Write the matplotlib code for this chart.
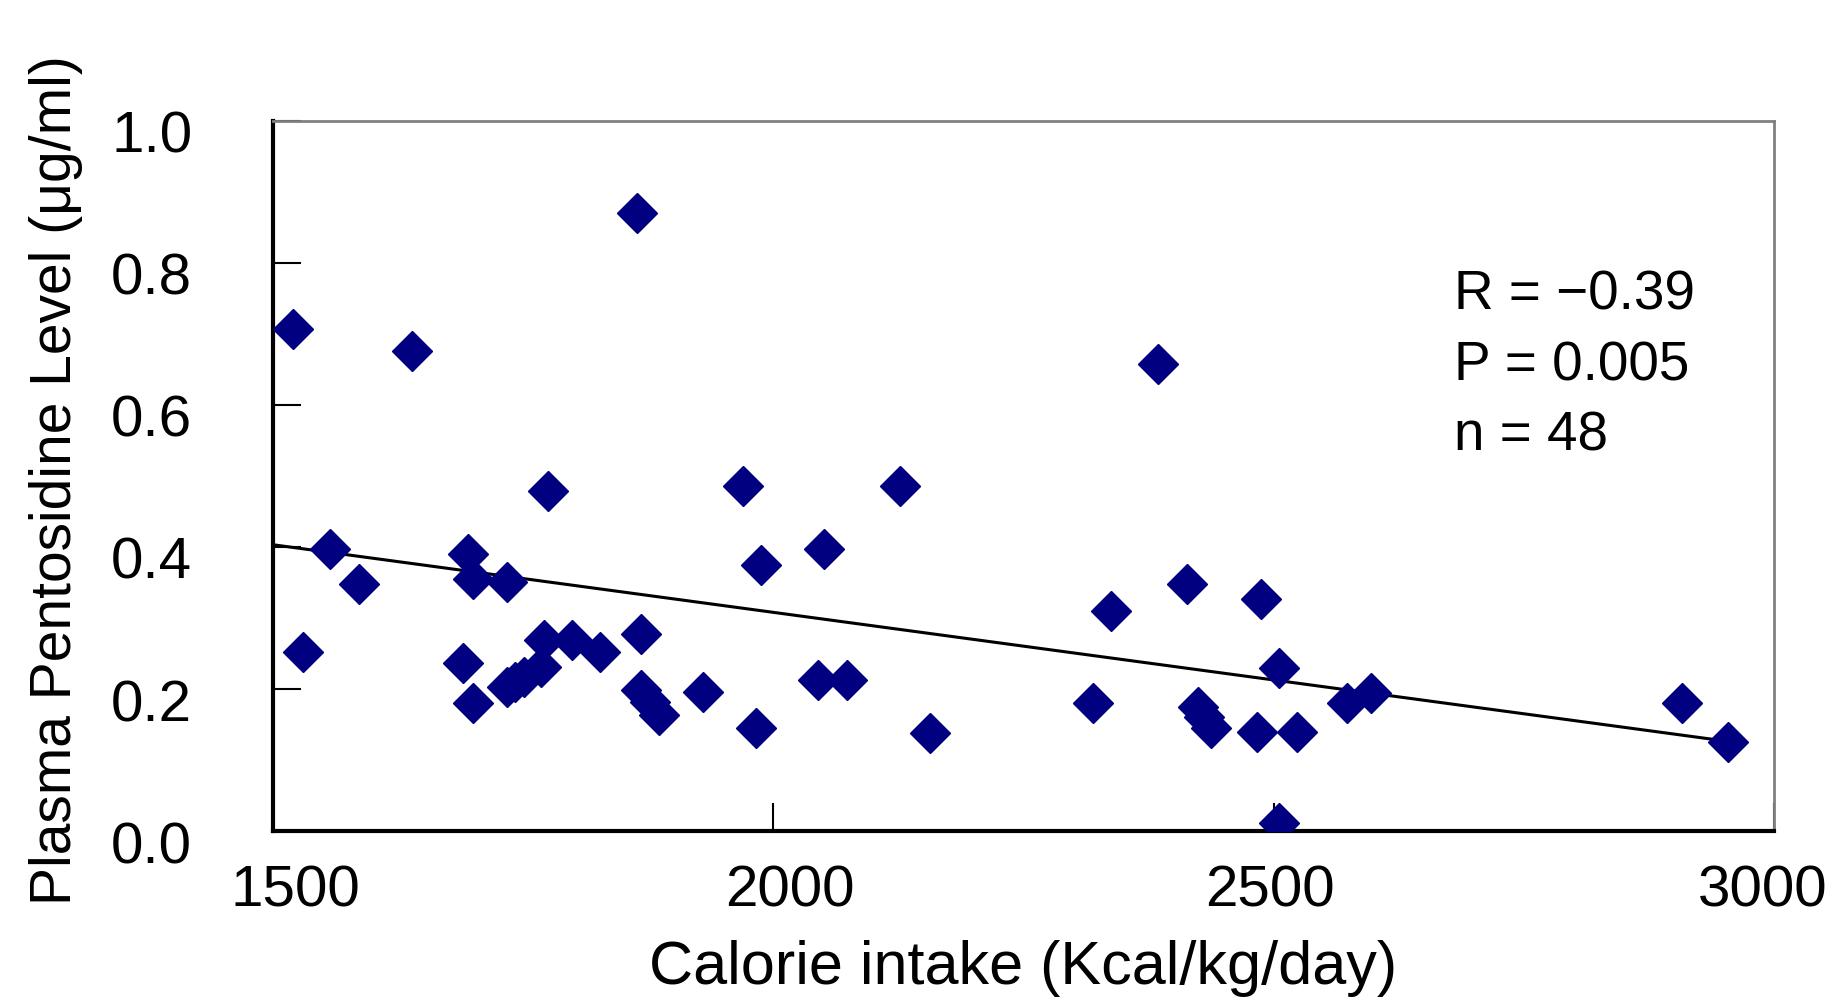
import numpy as np
import matplotlib.pyplot as plt
from matplotlib.transforms import ScaledTranslation

# calorie intake (Kcal/kg/day) and plasma pentosidine (ug/ml)
calorie = [1520, 1530, 1557, 1586, 1639, 1690, 1695, 1700, 1700, 1734,
           1734, 1742, 1751, 1768, 1771, 1775, 1799, 1827, 1864, 1868,
           1868, 1877, 1886, 1930, 1970, 1983, 1988, 2045, 2051, 2074,
           2127, 2157, 2320, 2338, 2384, 2413, 2424, 2430, 2437, 2483,
           2487, 2505, 2505, 2523, 2573, 2597, 2908, 2954]
pentosidine = [0.707, 0.252, 0.397, 0.348, 0.675, 0.236, 0.390, 0.355, 0.180, 0.350,
               0.203, 0.210, 0.217, 0.231, 0.269, 0.479, 0.269, 0.252, 0.870, 0.278,
               0.199, 0.182, 0.164, 0.196, 0.486, 0.145, 0.374, 0.213, 0.397, 0.213,
               0.486, 0.138, 0.180, 0.309, 0.657, 0.348, 0.174, 0.160, 0.145, 0.139,
               0.326, 0.229, 0.012, 0.139, 0.180, 0.194, 0.180, 0.125]

# regression line as drawn
fit_x = [1500, 2955]
fit_y = [0.403, 0.126]

x_ticks = [1500, 2000, 2500, 3000]
y_ticks = [0.0, 0.2, 0.4, 0.6, 0.8, 1.0]

sans = ['Liberation Sans', 'DejaVu Sans']

fig = plt.figure(figsize=(18.35, 10.01), dpi=100)
ax = fig.add_axes([0.1486, 0.1698, 0.8182, 0.7098])

ax.plot(fit_x, fit_y, color='black', lw=2.2, zorder=2)
ax.plot(calorie, pentosidine, 'D', color='#000080', ms=20, mec='#000080', zorder=3)

ax.set_xlim(1500, 3000)
ax.set_ylim(0.0, 1.0)
ax.set_xticks(x_ticks)
ax.set_yticks(y_ticks)
ax.set_xticklabels([str(v) for v in x_ticks], family=sans, fontsize=42)
ax.set_yticklabels(['%.1f' % v for v in y_ticks], family=sans, fontsize=42)
ax.tick_params(axis='both', direction='in', length=20, width=1.5, color='black')
ax.tick_params(axis='x', pad=24)
ax.tick_params(axis='y', pad=58)

# y labels sit a bit below their ticks in the original
shift = ScaledTranslation(0, -8 / 72, fig.dpi_scale_trans)
for lab in ax.get_yticklabels():
    lab.set_transform(lab.get_transform() + shift)

# x labels are a little off-centre in the original (points)
x_nudge = [16, 12, -3, -8]
for lab, dx in zip(ax.get_xticklabels(), x_nudge):
    lab.set_transform(lab.get_transform() + ScaledTranslation(dx / 72, 0, fig.dpi_scale_trans))

for side in ['left', 'bottom']:
    ax.spines[side].set_linewidth(3)
    ax.spines[side].set_color('black')
for side in ['top', 'right']:
    ax.spines[side].set_linewidth(2)
    ax.spines[side].set_color('#808080')

ax.set_xlabel('Calorie intake (Kcal/kg/day)', family=sans, fontsize=44, va='center')
ax.xaxis.set_label_coords(0.5, -0.194)
ax.set_ylabel('Plasma Pentosidine Level (\u03bcg/ml)', family=sans, fontsize=41, va='center')
ax.yaxis.set_label_coords(-0.144, 0.494)

ax.text(0.787, 0.79, 'R = \u22120.39\nP = 0.005\nn = 48', transform=ax.transAxes,
        family=sans, fontsize=39.5, va='top', ha='left', linespacing=1.46)

fig.savefig('out.png', dpi=100)
